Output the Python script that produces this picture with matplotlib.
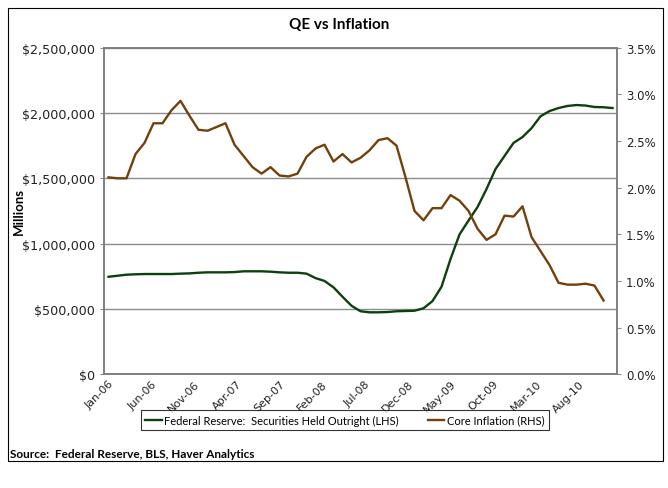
import matplotlib
matplotlib.use("Agg")
import matplotlib.pyplot as plt
from matplotlib.patches import Rectangle
from matplotlib.ticker import FuncFormatter, MultipleLocator
from matplotlib.lines import Line2D

# Federal Reserve securities held outright ($ millions), monthly from Jan-06
fed_securities = [
    746000, 754000, 762000, 765000, 767000, 767000, 767000, 767000, 770000, 772000,
    777000, 780000, 780000, 780000, 782000, 788000, 788000, 788000, 785000, 780000,
    777000, 777000, 770000, 736000, 714000, 665000, 593000, 524000, 482000, 474000,
    474000, 476000, 482000, 484000, 486000, 505000, 560000, 670000, 882000, 1070000,
    1177000, 1280000, 1418000, 1571000, 1671000, 1771000, 1816000, 1884000, 1975000, 2015000,
    2038000, 2054000, 2061000, 2057000, 2046000, 2044000, 2038000,
]

# Core inflation (%), monthly from Jan-06
core_inflation = [
    2.11, 2.10, 2.10, 2.36, 2.48, 2.69, 2.69, 2.83, 2.93, 2.77,
    2.62, 2.61, 2.65, 2.69, 2.46, 2.34, 2.22, 2.15, 2.22, 2.13,
    2.12, 2.15, 2.33, 2.42, 2.46, 2.28, 2.36, 2.27, 2.32, 2.40,
    2.51, 2.53, 2.45, 2.11, 1.75, 1.65, 1.78, 1.78, 1.92, 1.86,
    1.75, 1.56, 1.44, 1.50, 1.70, 1.69, 1.80, 1.47, 1.32, 1.17,
    0.98, 0.96, 0.96, 0.97, 0.95, 0.79,
]

tick_labels = ["Jan-06", "Jun-06", "Nov-06", "Apr-07", "Sep-07", "Feb-08",
               "Jul-08", "Dec-08", "May-09", "Oct-09", "Mar-10", "Aug-10"]
tick_step = 5
# labels in the source sit a little tighter than the plotted points
label_squeeze = 0.95

green = "#0d400d"
brown = "#73400c"
grid_grey = "#8c8c8c"
narrow = ["Lato", "DejaVu Sans"]

plt.rcParams["font.family"] = ["DejaVu Sans"]

fig = plt.figure(figsize=(6.68, 4.89), dpi=100)
ax = fig.add_axes([0.1557, 0.2327, 0.768, 0.6677])
ax2 = ax.twinx()

ax.plot(range(len(fed_securities)), fed_securities, color=green, lw=1.7, zorder=3)
ax2.plot(range(len(core_inflation)), core_inflation, color=brown, lw=1.7, zorder=3)

n_slots = len(fed_securities)
ax.set_xlim(-0.5, n_slots - 0.5)
ax.set_ylim(0, 2500000)
ax2.set_ylim(0, 3.5)

ax.yaxis.set_major_locator(MultipleLocator(500000))
ax.yaxis.set_major_formatter(FuncFormatter(lambda v, p: f"${v:,.0f}"))
ax2.yaxis.set_major_locator(MultipleLocator(0.5))
ax2.yaxis.set_major_formatter(FuncFormatter(lambda v, p: f"{v:.1f}%"))

ax.grid(axis="y", color=grid_grey, lw=1.0)
ax.set_axisbelow(True)

ax.set_xticks([k * tick_step * label_squeeze for k in range(len(tick_labels))])
ax.set_xticklabels(tick_labels, rotation=45, ha="right", rotation_mode="anchor")
ax.tick_params(axis="x", length=0, pad=3, labelsize=8, colors="#222222")
ax.tick_params(axis="y", length=3, width=0.8, color=grid_grey, labelsize=9.2, labelcolor="#222222")
ax2.tick_params(axis="y", length=3, width=0.8, color=grid_grey, labelsize=8.5, labelcolor="#222222")

for a in (ax, ax2):
    for s in a.spines.values():
        s.set_color("#7f7f7f")
        s.set_linewidth(1.2)

ax.set_ylabel("Millions", fontsize=9.5, fontweight="bold", family=narrow)
ax.yaxis.set_label_coords(-0.155, 0.5)

fig.text(0.508, 0.948, "QE vs Inflation", ha="center", va="center",
         fontsize=11, fontweight="bold", family=narrow)

handles = [Line2D([], [], color=green, lw=1.7),
           Line2D([], [], color=brown, lw=1.7)]
labels = ["Federal Reserve:  Securities Held Outright (LHS)", "Core Inflation (RHS)"]
leg = fig.legend(handles, labels, loc="center", bbox_to_anchor=(0.516, 0.139), ncol=2,
                 frameon=True, fancybox=False, edgecolor="black", handlelength=1.5,
                 handletextpad=0.2, columnspacing=2.6, borderpad=0.4,
                 prop={"family": narrow, "size": 8})
leg.get_frame().set_linewidth(0.8)

fig.text(0.015, 0.070, "Source:  Federal Reserve, BLS, Haver Analytics", ha="left",
         va="center", fontsize=8.5, fontweight="bold", family=narrow)

fig.patches.append(Rectangle((8 / 668, 1 - 462 / 489), 655 / 668, 453 / 489,
                             transform=fig.transFigure, fill=False,
                             edgecolor="black", lw=0.8))

fig.savefig("out.png", dpi=100, facecolor="white")
